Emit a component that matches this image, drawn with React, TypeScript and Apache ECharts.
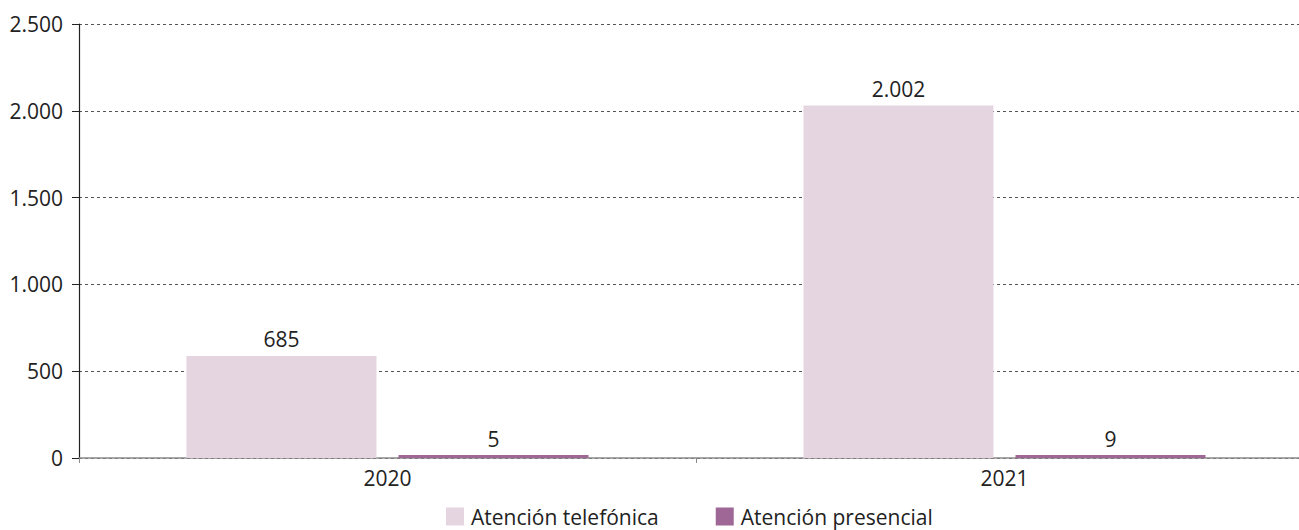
import React, { useEffect, useRef } from "react";
import * as echarts from "echarts";

const categories = ["2020", "2021"];
const seriesNames = ["Atención telefónica", "Atención presencial"];
// bar heights as drawn in the picture
const telefonicaHeights = [588, 2030];
const presencialHeights = [5, 9];
// value labels as printed
const telefonicaLabels = ["685", "2.002"];
const presencialLabels = ["5", "9"];
const yTicks = [0, 500, 1000, 1500, 2000, 2500];

const fmt = (v: number) => {
  const s = String(v);
  return s.length > 3 ? s.slice(0, s.length - 3) + "." + s.slice(-3) : s;
};

export default function App() {
  const ref = useRef<HTMLDivElement>(null);
  useEffect(() => {
    if (!ref.current) return;
    const chart = echarts.init(ref.current, null, { renderer: "svg" });
    const font = "'Open Sans', 'Noto Sans', sans-serif";
    const fs = 21;
    chart.setOption({
      animation: false,
      textStyle: { fontFamily: font },
      grid: { left: 79, right: 0, top: 24, bottom: 72, containLabel: false },
      legend: {
        left: 446,
        top: 506,
        padding: 0,
        itemWidth: 18,
        itemHeight: 18,
        itemGap: 57,
        icon: "rect",
        textStyle: { fontSize: fs, lineHeight: fs, color: "#222", fontFamily: font, padding: [0, 0, 0, 2] },
        data: seriesNames,
      },
      xAxis: {
        type: "category",
        data: categories,
        axisLine: { lineStyle: { color: "#8a8a8a", width: 1.5 } },
        axisTick: { show: true, length: 5, lineStyle: { color: "#8a8a8a" } },
        axisLabel: { fontSize: fs, color: "#222", margin: 9, fontFamily: font },
      },
      yAxis: {
        type: "value",
        min: yTicks[0],
        max: yTicks[yTicks.length - 1],
        interval: 500,
        axisLine: { show: true, lineStyle: { color: "#222", width: 1.2 } },
        axisTick: { show: true, length: 7, lineStyle: { color: "#222" } },
        axisLabel: {
          fontSize: fs,
          color: "#222",
          margin: 16,
          fontFamily: font,
          formatter: (v: number) => fmt(v),
        },
        splitLine: {
          show: true,
          lineStyle: { color: "#555", type: [3, 3], width: 1 },
        },
      },
      series: [
        {
          name: seriesNames[0],
          type: "bar",
          data: telefonicaHeights,
          barWidth: 190,
          barGap: "11.6%",
          itemStyle: { color: "#e4d5e0" },
          label: {
            show: true,
            position: "top",
            distance: 6,
            fontSize: fs,
            color: "#222",
            fontFamily: font,
            formatter: (p: any) => telefonicaLabels[p.dataIndex],
          },
        },
        {
          name: seriesNames[1],
          type: "bar",
          data: presencialHeights,
          barWidth: 190,
          barMinHeight: 3,
          itemStyle: { color: "#9e6796" },
          label: {
            show: true,
            position: "top",
            distance: 6,
            fontSize: fs,
            color: "#222",
            fontFamily: font,
            formatter: (p: any) => presencialLabels[p.dataIndex],
          },
        },
      ],
    });
    return () => chart.dispose();
  }, []);
  return (
    <div
      style={{ position: "fixed", left: 0, top: 0, width: 1299, height: 530, overflow: "hidden", background: "#fff" }}
    >
      <div ref={ref} style={{ width: 1313, height: 530 }} />
    </div>
  );
}
